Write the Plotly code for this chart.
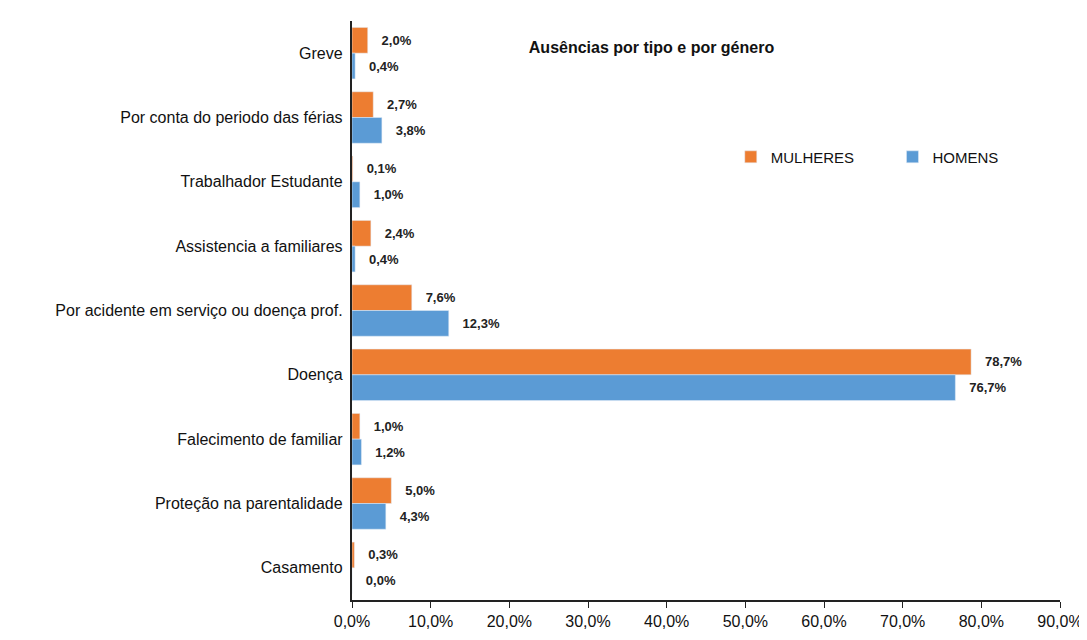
import plotly.graph_objects as go

categories = ["Greve", "Por conta do periodo das férias", "Trabalhador Estudante",
              "Assistencia a familiares", "Por acidente em serviço ou doença prof.",
              "Doença", "Falecimento de familiar", "Proteção na parentalidade", "Casamento"]
mulheres = [2.0, 2.7, 0.1, 2.4, 7.6, 78.7, 1.0, 5.0, 0.3]
homens = [0.4, 3.8, 1.0, 0.4, 12.3, 76.7, 1.2, 4.3, 0.0]
x_ticks = [0, 10, 20, 30, 40, 50, 60, 70, 80, 90]

def fmt(v):
    return f"{v:.1f}%".replace(".", ",")

fig = go.Figure()
fig.add_trace(go.Bar(y=categories, x=mulheres, orientation="h", name="MULHERES        ",
                     marker_color="#ED7D31", text=["<b>" + fmt(v) + "</b>" for v in mulheres],
                     texttemplate="   %{text}",
                     textposition="outside", cliponaxis=False,
                     textfont=dict(family="Arial", size=13, color="#222222")))
fig.add_trace(go.Bar(y=categories, x=homens, orientation="h", name="HOMENS",
                     marker_color="#5B9BD5", text=["<b>" + fmt(v) + "</b>" for v in homens],
                     texttemplate="   %{text}",
                     textposition="outside", cliponaxis=False,
                     textfont=dict(family="Arial", size=13, color="#222222")))

fig.update_layout(
    width=1087, height=640,
    margin=dict(l=344, r=30, t=13, b=48),
    paper_bgcolor="white", plot_bgcolor="white",
    barmode="group", bargap=0.2, bargroupgap=0.0,
    separators=",.",
    font=dict(family="Arial", size=16, color="#111111"),
    title=dict(text="<b>Ausências por tipo e por género</b>", x=0.592, xanchor="center",
               y=0.938, yanchor="middle", font=dict(size=16, family="Arial")),
    legend=dict(orientation="h", x=0.535, y=0.765, xanchor="left", yanchor="middle",
                font=dict(size=15, family="Arial"), itemwidth=30, bgcolor="rgba(0,0,0,0)"),
)
fig.update_xaxes(range=[0, 90], tickvals=x_ticks, ticktext=[fmt(v) for v in x_ticks],
                 showgrid=False, showline=True, linecolor="#222222", linewidth=1.5,
                 ticks="outside", ticklen=6, tickcolor="#222222",
                 tickfont=dict(size=16, family="Arial"), zeroline=False)
fig.update_yaxes(autorange="reversed", showgrid=False, showline=True, linecolor="#222222",
                 linewidth=1.5, ticks="", tickfont=dict(size=16, family="Arial"),
                 ticksuffix=" ")

fig.write_html("out.html")
